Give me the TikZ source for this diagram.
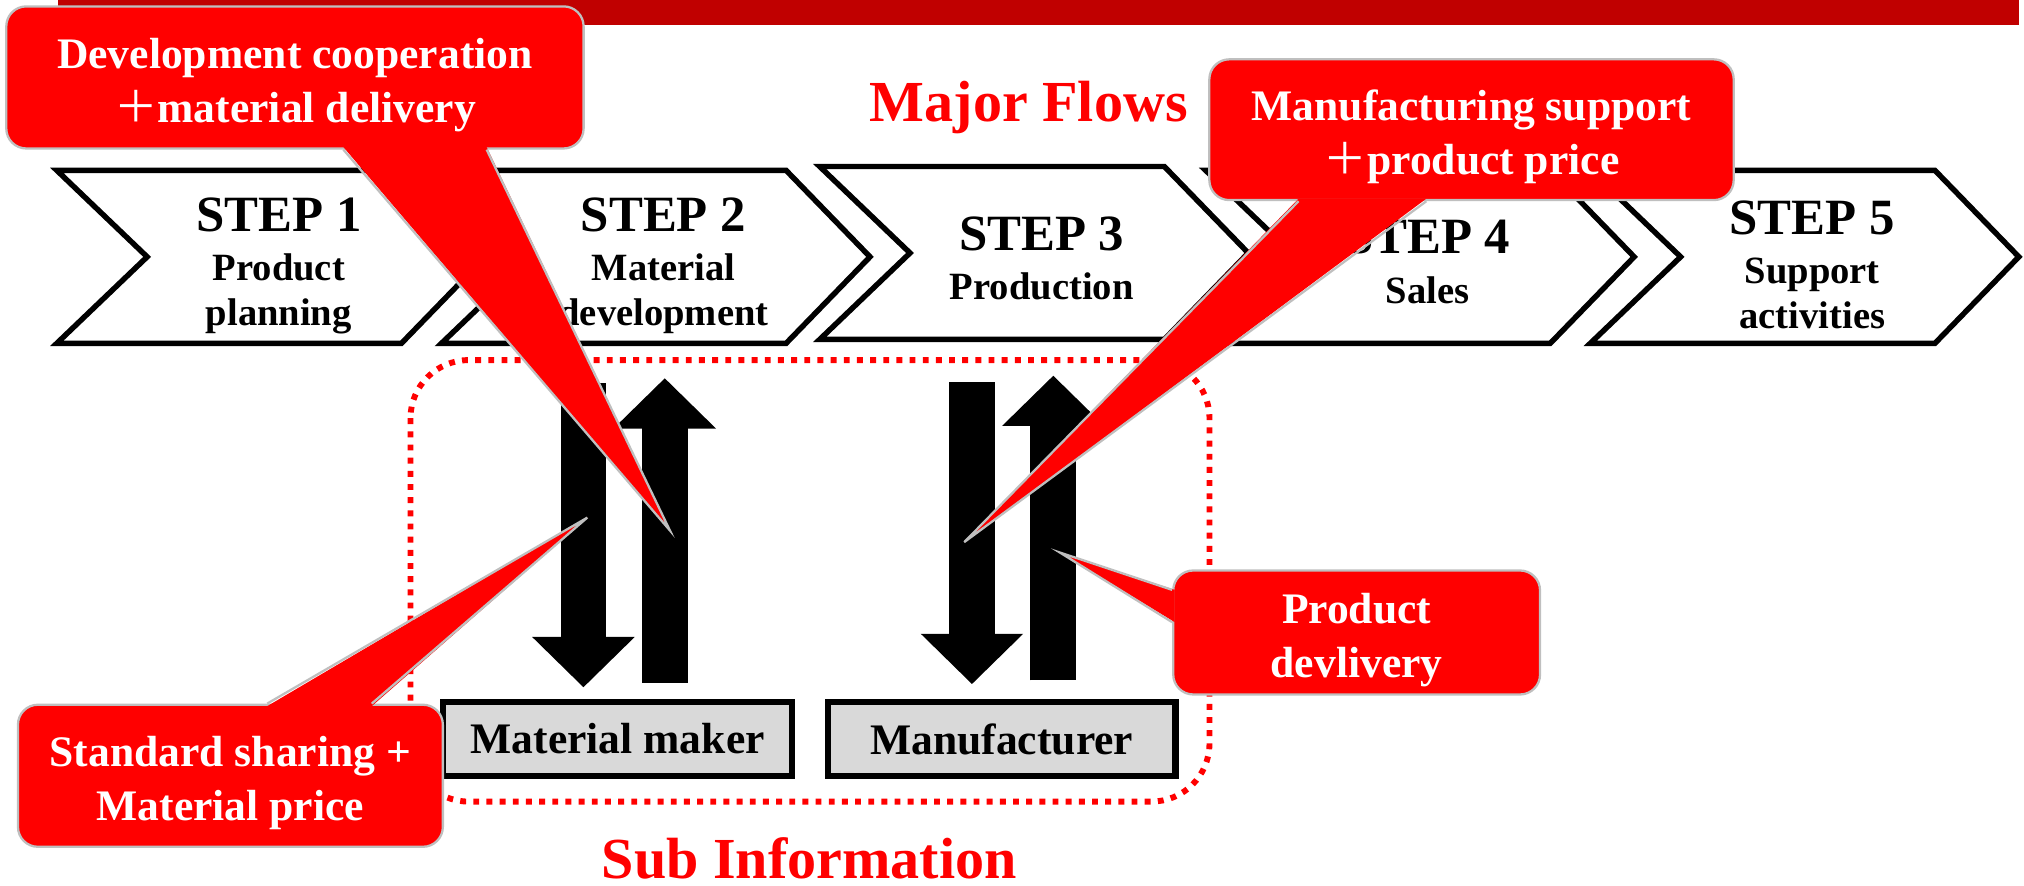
\documentclass[tikz,border=0pt]{standalone}
\usepackage{fontspec}
\setmainfont{Liberation Serif}
\newfontfamily\cjk{Noto Sans CJK JP}
\usepackage{tikz}
\usetikzlibrary{positioning,calc,arrows.meta}
\definecolor{barred}{HTML}{C00000}
\definecolor{callred}{HTML}{FF0000}
\definecolor{callgray}{HTML}{BFBFBF}
\definecolor{boxgray}{HTML}{D9D9D9}
\tikzset{
  stepshape/.style={draw=black,line width=1.2pt,fill=white},
  steptext/.style={align=center,inner sep=0pt,
                   font=\bfseries\fontsize{8.5}{9.9}\selectfont},
  callout/.style={fill=callred,draw=callgray,line width=0.5pt,rounded corners=4.4pt,
                  text=white,inner sep=0pt,
                  font=\bfseries\fontsize{9.6}{11.9}\selectfont},
  calltail/.style={fill=callred},
  tailedge/.style={draw=callgray,line width=0.5pt},
  makerbox/.style={draw=black,line width=1.4pt,fill=boxgray,inner sep=0pt,
                   minimum height=0.57cm,font=\bfseries\fontsize{9.6}{11}\selectfont},
  bigarrow/.style={line width=0.355cm,-{Triangle[width=0.77cm,length=0.39cm]}},
  title/.style={text=callred,inner sep=0pt,font=\bfseries\fontsize{12.8}{14}\selectfont},
  subframe/.style={draw=callred,line width=1.3pt,dash pattern=on 1.3pt off 1.6pt,
                   rounded corners=12.8pt}
}
\newcommand{\wideplus}{{\cjk\mdseries ＋}}
% two centred lines, set a little lower than the box centre
\newcommand{\calltext}[2]{\raisebox{-1.5pt}[\height][\depth]{%
  \begin{tabular}{@{}c@{}}#1\\#2\end{tabular}}}

\begin{document}
\begin{tikzpicture}[x=0.01cm,y=-0.01cm]
  \useasboundingbox (0,0) rectangle (1568,686);

  % header bar
  \fill[barred] (45,0) rectangle (1564,19);

  \node[title] (major) at (797,83) {Major Flows};
  \node[title] (sub)   at (627,665) {Sub Information};

  % the five steps
  \foreach \n/\x/\t/\dy/\lbl in {1/44/132/74/{Product\\planning},
                                 2/342/132/74/{Material\\development},
                                 3/635/129/71/{Production},
                                 4/934/132/71/{Sales},
                                 5/1232/132/73/{Support\\activities}} {
    \draw[stepshape] (\x,\t) -- ++(267,0) -- ++(65,67) -- ++(-65,67)
                     -- ++(-267,0) -- ++(70,-67) -- cycle;
    \node[steptext] (step\n) at (\x+172,\t+\dy)
         {{\fontsize{11.2}{13}\selectfont STEP \n}\\[1pt]\lbl};
  }

  \draw[subframe] (318,279) rectangle (937,621);

  % makers
  \node[makerbox, minimum width=2.70cm] (mm) at (478.5,572.5) {Material maker};
  \node[makerbox, minimum width=2.69cm, right=0.23cm of mm] (mf) {Manufacturer};

  \coordinate (mmdn) at (452,297);
  \coordinate (mmup) at (515,293);
  \coordinate (mfdn) at (753,296);
  \coordinate (mfup) at (816,291);
  \draw[bigarrow, shorten >=0.09cm] (mmdn) -- (mmdn |- mm.north);
  \draw[bigarrow, shorten <=0.125cm] (mmup |- mm.north) -- (mmup);
  \draw[bigarrow, shorten >=0.115cm] (mfdn) -- (mfdn |- mf.north);
  \draw[bigarrow, shorten <=0.145cm] (mfup |- mf.north) -- (mfup);

  % callouts
  \coordinate (tipdev) at (519,411);
  \coordinate (tipmfg) at (747,420);
  \coordinate (tipstd) at (455,401);
  \coordinate (tipdlv) at (821,428);

  \node[callout, minimum width=4.47cm, minimum height=1.10cm] (dev) at (228.5,60)
       {\calltext{Development cooperation}{\wideplus material delivery}};
  \fill[calltail] ($(266,0 |- dev.south)+(0,-2)$) -- (tipdev)
                  -- ($(377,0 |- dev.south)+(0,-2)$) -- cycle;
  \draw[tailedge] (266,0 |- dev.south) -- (tipdev) -- (377,0 |- dev.south);

  \node[callout, minimum width=4.06cm, minimum height=1.09cm] (mfg) at (1140,100.5)
       {\calltext{Manufacturing support}{\wideplus product price}};
  \fill[calltail] ($(1006,0 |- mfg.south)+(0,-2)$) -- (tipmfg)
                  -- ($(1105,0 |- mfg.south)+(0,-2)$) -- cycle;
  \draw[tailedge] (1006,0 |- mfg.south) -- (tipmfg) -- (1105,0 |- mfg.south);

  \node[callout, minimum width=3.29cm, minimum height=1.10cm] (std) at (178.5,601)
       {\calltext{Standard sharing +}{Material price}};
  \fill[calltail] ($(207,0 |- std.north)+(0,2)$) -- (tipstd)
                  -- ($(288,0 |- std.north)+(0,2)$) -- cycle;
  \draw[tailedge] (207,0 |- std.north) -- (tipstd) -- (288,0 |- std.north);

  \node[callout, minimum width=2.84cm, minimum height=0.96cm] (dlv) at (1051,490)
       {\calltext{Product}{devlivery}};
  \fill[calltail] ($(dlv.west |- 0,457)+(2,0)$) -- (tipdlv)
                  -- ($(dlv.west |- 0,482)+(2,0)$) -- cycle;
  \draw[tailedge] (dlv.west |- 0,457) -- (tipdlv) -- (dlv.west |- 0,482);
\end{tikzpicture}
\end{document}
